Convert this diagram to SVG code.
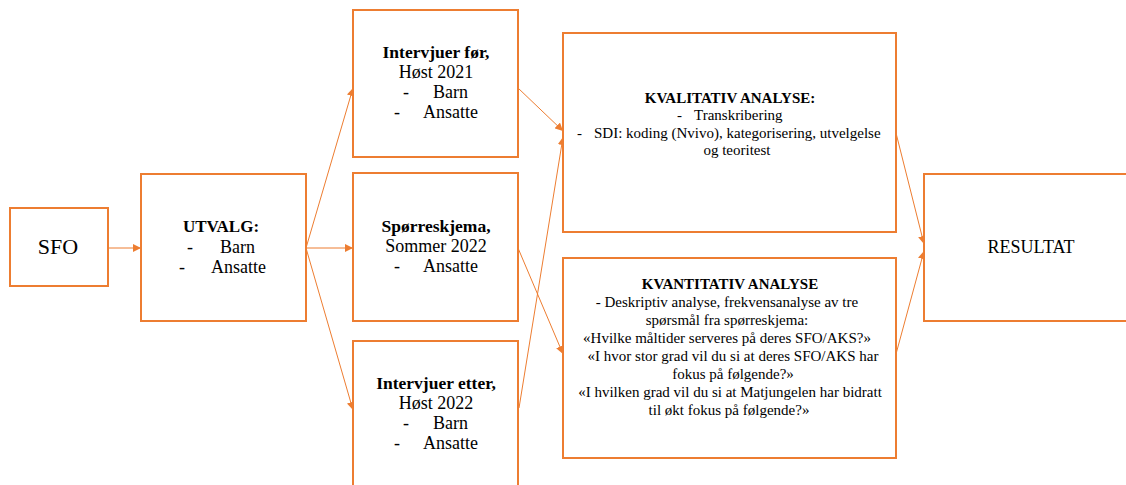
<svg xmlns="http://www.w3.org/2000/svg" width="1126" height="485" viewBox="0 0 1126 485" font-family="'Liberation Serif', 'Times New Roman', Tinos, 'DejaVu Serif', serif">
<defs>
<marker id="ah" markerUnits="userSpaceOnUse" markerWidth="9" markerHeight="8" refX="8" refY="4" orient="auto">
<path d="M0,0 L8,4 L0,8 Z" fill="#ED7D31"/>
</marker>
</defs>
<style>
.box{fill:#fff;stroke:#ED7D31;stroke-width:2}
.c{fill:none;stroke:#ED7D31;stroke-width:1;marker-end:url(#ah)}
text{fill:#000}
.b{font-weight:bold}
.m{text-anchor:middle}
.t18{font-size:18px}
.tb{font-size:17.5px}
.t15{font-size:15px}
</style>
<rect width="1126" height="485" fill="#fff"/>
<g id="connectors">
<path class="c" d="M108,248 L141,248"/>
<path class="c" d="M306,248 L353,88"/>
<path class="c" d="M306,248 L353,248"/>
<path class="c" d="M306,248 L353,410"/>
<path class="c" d="M518,88 L563,131"/>
<path class="c" d="M519,408 L563,137"/>
<path class="c" d="M518,248 L563,354"/>
<path class="c" d="M896,133 L924,244"/>
<path class="c" d="M896,354 L924,251"/>
</g>
<g id="sfo">
<rect class="box" x="10" y="208" width="98" height="78"/>
<text class="m" x="58" y="254" font-size="22">SFO</text>
</g>
<g id="utvalg">
<rect class="box" x="141" y="174" width="165" height="147"/>
<text class="m b" x="221" y="232" font-size="17">UTVALG:</text>
<text class="t18" x="187" y="253">-</text><text class="t18" x="220" y="253">Barn</text>
<text class="t18" x="179" y="273">-</text><text class="t18" x="211" y="273">Ansatte</text>
</g>
<g id="intervjuer-for">
<rect class="box" x="353" y="10" width="165" height="147"/>
<text class="m b tb" x="436" y="58">Intervjuer før,</text>
<text class="m t18" x="436" y="78">Høst 2021</text>
<text class="t18" x="403" y="98">-</text><text class="t18" x="433" y="98">Barn</text>
<text class="t18" x="394" y="118">-</text><text class="t18" x="423" y="118">Ansatte</text>
</g>
<g id="sporreskjema">
<rect class="box" x="353" y="173" width="165" height="148"/>
<text class="m b tb" x="436" y="232">Spørreskjema,</text>
<text class="m t18" x="436" y="252">Sommer 2022</text>
<text class="t18" x="394" y="272">-</text><text class="t18" x="423" y="272">Ansatte</text>
</g>
<g id="intervjuer-etter">
<rect class="box" x="353" y="341" width="165" height="160"/>
<text class="m b tb" x="436" y="389">Intervjuer etter,</text>
<text class="m t18" x="436" y="409">Høst 2022</text>
<text class="t18" x="403" y="429">-</text><text class="t18" x="433" y="429">Barn</text>
<text class="t18" x="394" y="449">-</text><text class="t18" x="423" y="449">Ansatte</text>
</g>
<g id="kvalitativ">
<rect class="box" x="563" y="33" width="333" height="199"/>
<text class="m b t15" x="730" y="103">KVALITATIV ANALYSE:</text>
<text class="t15" x="677" y="120">-</text><text class="t15" x="694" y="120">Transkribering</text>
<text class="t15" x="577" y="138">-</text><text class="t15" x="594" y="138">SDI: koding (Nvivo), kategorisering, utvelgelse</text>
<text class="m t15" x="737" y="155">og teoritest</text>
</g>
<g id="kvantitativ">
<rect class="box" x="563" y="258" width="333" height="200"/>
<text class="m b t15" x="730" y="289">KVANTITATIV ANALYSE</text>
<text class="m t15" x="727" y="307">- Deskriptiv analyse, frekvensanalyse av tre</text>
<text class="m t15" x="727" y="325">spørsmål fra spørreskjema:</text>
<text class="m t15" x="727" y="343">«Hvilke måltider serveres på deres SFO/AKS?»</text>
<text class="m t15" x="733" y="361">«I hvor stor grad vil du si at deres SFO/AKS har</text>
<text class="m t15" x="733" y="379">fokus på følgende?»</text>
<text class="m t15" x="730" y="397">«I hvilken grad vil du si at Matjungelen har bidratt</text>
<text class="m t15" x="729" y="415">til økt fokus på følgende?»</text>
</g>
<g id="resultat">
<rect class="box" x="924" y="174" width="215" height="147"/>
<text class="m" x="1031" y="253" font-size="18">RESULTAT</text>
</g>
</svg>
